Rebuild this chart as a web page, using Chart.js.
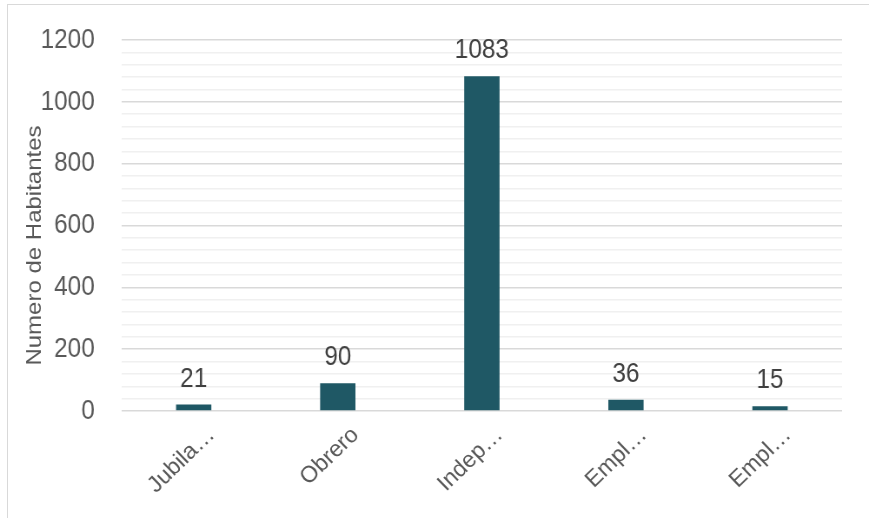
<!DOCTYPE html>
<html>
<head>
<meta charset="utf-8">
<script src="https://cdn.jsdelivr.net/npm/chart.js@4.4.0/dist/chart.umd.min.js"></script>
<style>
  html, body { margin: 0; padding: 0; background: #fff; overflow: hidden; }
  #wrap { position: relative; width: 869px; height: 518px; overflow: hidden; }
  #frame { position: absolute; left: 7px; top: 4px; width: 900px; height: 600px; border: 1.5px solid #d9d9d9; box-sizing: border-box; }
  #c { position: absolute; left: 0; top: 0; transform: scaleX(0.869); transform-origin: 0 0; }
</style>
</head>
<body>
<div id="wrap">
  <div id="frame"></div>
  <canvas id="c" width="1000" height="518"></canvas>
</div>
<script>
const categories = ["Jubila\u2026", "Obrero", "Indep\u2026", "Empl\u2026", "Empl\u2026"];
const habitantes = [21, 90, 1083, 36, 15];
const yTickValues = [0, 200, 400, 600, 800, 1000, 1200];
const yTitle = "Numero de Habitantes";

const SQUEEZE = 0.869;
const FONT = "'Liberation Sans', Arial, sans-serif";
const TEXT = '#595959';

const valueLabels = {
  id: 'valueLabels',
  afterDatasetsDraw(chart) {
    const ctx = chart.ctx;
    const meta = chart.getDatasetMeta(0);
    ctx.save();
    ctx.font = '28px ' + FONT;
    ctx.fillStyle = '#404040';
    ctx.textAlign = 'center';
    ctx.textBaseline = 'alphabetic';
    meta.data.forEach((bar, i) => {
      ctx.fillText(String(chart.data.datasets[0].data[i]), bar.x, bar.y - 18);
    });
    ctx.restore();
  }
};

const axisTitle = {
  id: 'axisTitle',
  afterDraw(chart) {
    const ctx = chart.ctx;
    const y = chart.scales.y;
    ctx.save();
    ctx.translate(y.left + 40, (chart.chartArea.top + chart.chartArea.bottom) / 2 + 20);
    ctx.rotate(-Math.PI / 2);
    ctx.font = '24px ' + FONT;
    ctx.fillStyle = TEXT;
    ctx.textAlign = 'center';
    ctx.textBaseline = 'middle';
    ctx.fillText(yTitle, 0, 0);
    ctx.restore();
  }
};

// category labels, rotated, drawn at the x scale's tick positions (counter-scaled so glyphs stay upright)
const rotatedCategoryLabels = {
  id: 'rotatedCategoryLabels',
  afterDraw(chart) {
    const ctx = chart.ctx;
    const xs = chart.scales.x;
    const bottom = chart.chartArea.bottom;
    ctx.save();
    ctx.font = '23px ' + FONT;
    ctx.fillStyle = TEXT;
    ctx.textAlign = 'right';
    ctx.textBaseline = 'alphabetic';
    chart.data.labels.forEach((lab, i) => {
      const px = xs.getPixelForTick(i);
      ctx.save();
      ctx.translate(px + 22 / SQUEEZE, bottom + 25);
      ctx.scale(1 / SQUEEZE, 1);
      ctx.rotate(-44 * Math.PI / 180);
      ctx.fillText(lab, 0, 0);
      ctx.restore();
    });
    ctx.restore();
  }
};

new Chart(document.getElementById('c'), {
  type: 'bar',
  data: {
    labels: categories,
    datasets: [{
      data: habitantes,
      backgroundColor: '#1f5865',
      borderWidth: 0,
      barPercentage: 0.245,
      categoryPercentage: 1
    }]
  },
  options: {
    responsive: false,
    animation: false,
    devicePixelRatio: 1,
    layout: { padding: { top: 40, right: 31, left: 0, bottom: 0 } },
    plugins: { legend: { display: false }, tooltip: { enabled: false } },
    scales: {
      x: {
        grid: { display: false, drawTicks: false },
        border: { display: false },
        ticks: { display: false },
        afterFit(s) { s.height = 107; }
      },
      y: {
        min: 0, max: 1200,
        grid: {
          drawTicks: true,
          tickLength: 15,
          tickColor: 'rgba(0,0,0,0)',
          lineWidth: 1.5,
          color: (c) => (yTickValues.includes(c.tick.value) ? '#d9d9d9' : '#f0f0f0')
        },
        border: { display: false },
        ticks: {
          stepSize: 40,
          autoSkip: false,
          color: TEXT,
          font: { family: FONT, size: 28 },
          padding: 16,
          callback: (v) => (yTickValues.includes(v) ? String(v) : '')
        },
        title: { display: false },
        afterFit(s) { s.width = 140; }
      }
    }
  },
  plugins: [valueLabels, axisTitle, rotatedCategoryLabels]
});
</script>
</body>
</html>
